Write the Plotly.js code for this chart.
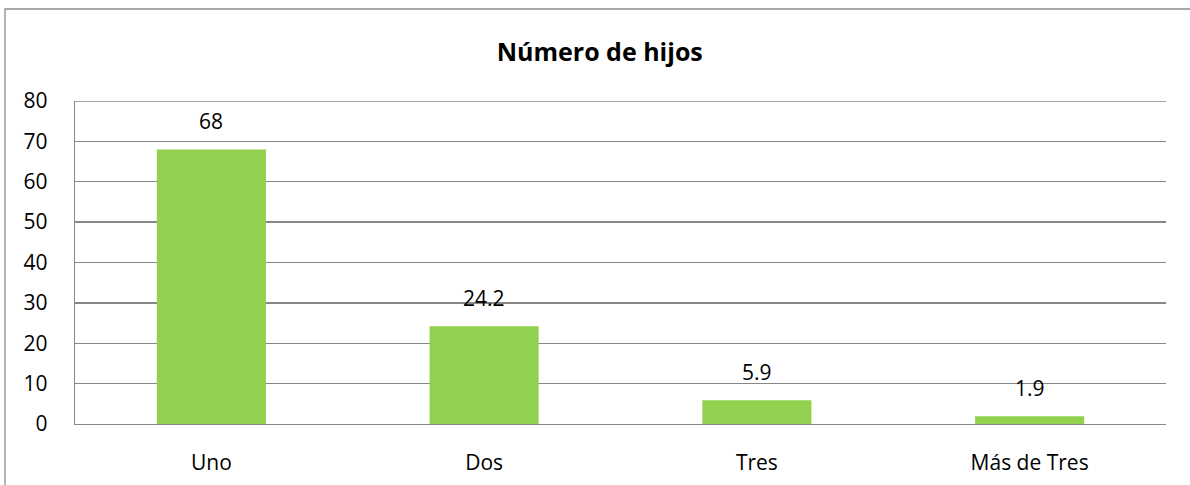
<!DOCTYPE html>
<html>
<head>
<meta charset="utf-8">
<script src="https://cdn.plot.ly/plotly-3.0.1.min.js"></script>
<style>
html,body{margin:0;padding:0;background:#fff;}
#chart{width:1190px;height:485px;}
</style>
</head>
<body>
<div id="chart"></div>
<script>
const categories = ["Uno", "Dos", "Tres", "Más de Tres"];
const values = [68, 24.2, 5.9, 1.9];
const valueLabels = ["68", "24.2", "5.9", "1.9"];
const yTicks = [0, 10, 20, 30, 40, 50, 60, 70, 80];

const FONT = "Open Sans, Noto Sans, sans-serif";
const GRID = "#878787";

const W = 1190, H = 485;
const L = 75, R = 24, T = 101, B = 61;
const pw = W - L - R, ph = H - T - B;

const trace = {
  type: "bar",
  x: categories,
  y: values,
  marker: {color: "#92D050"},
  width: 0.4,
  hoverinfo: "x+y"
};

const annotations = categories.map((c, i) => ({
  x: c, y: values[i], xref: "x", yref: "y",
  text: valueLabels[i], showarrow: false,
  yanchor: "bottom", yshift: 12,
  font: {family: FONT, size: 21, color: "#000"}
}));

const layout = {
  width: W, height: H,
  margin: {l: L, r: R, t: T, b: B},
  paper_bgcolor: "#fff", plot_bgcolor: "#fff",
  showlegend: false,
  title: {
    text: "<b>Número de hijos</b>",
    x: 0.504, xanchor: "center",
    y: 1 - 52 / H, yanchor: "middle",
    font: {family: FONT, size: 25, color: "#000"}
  },
  xaxis: {
    type: "category",
    showgrid: false,
    showline: true, linecolor: GRID, linewidth: 1.3,
    ticks: "", ticklabelstandoff: 19,
    tickfont: {family: FONT, size: 21, color: "#000"},
    fixedrange: true
  },
  yaxis: {
    range: [0, 80],
    tickvals: yTicks,
    showgrid: true, gridcolor: GRID, gridwidth: 1.3,
    showline: true, linecolor: GRID, linewidth: 1.3,
    zeroline: false,
    ticks: "", ticklabelstandoff: 22,
    tickfont: {family: FONT, size: 21, color: "#000"},
    fixedrange: true
  },
  annotations: annotations,
  shapes: [
    {
      type: "line", xref: "paper", yref: "y",
      x0: 0, x1: 1, y0: 80, y1: 80,
      line: {color: GRID, width: 1.3}
    },
    {
      type: "rect", xref: "paper", yref: "paper",
      x0: (5 - L) / pw, x1: (1300 - L) / pw,
      y0: -(200) / ph, y1: (H - B - 9) / ph,
      line: {color: "#8c8c8c", width: 1.3},
      fillcolor: "rgba(0,0,0,0)", layer: "below"
    }
  ]
};

Plotly.newPlot("chart", [trace], layout, {displayModeBar: false, staticPlot: true});
</script>
</body>
</html>
